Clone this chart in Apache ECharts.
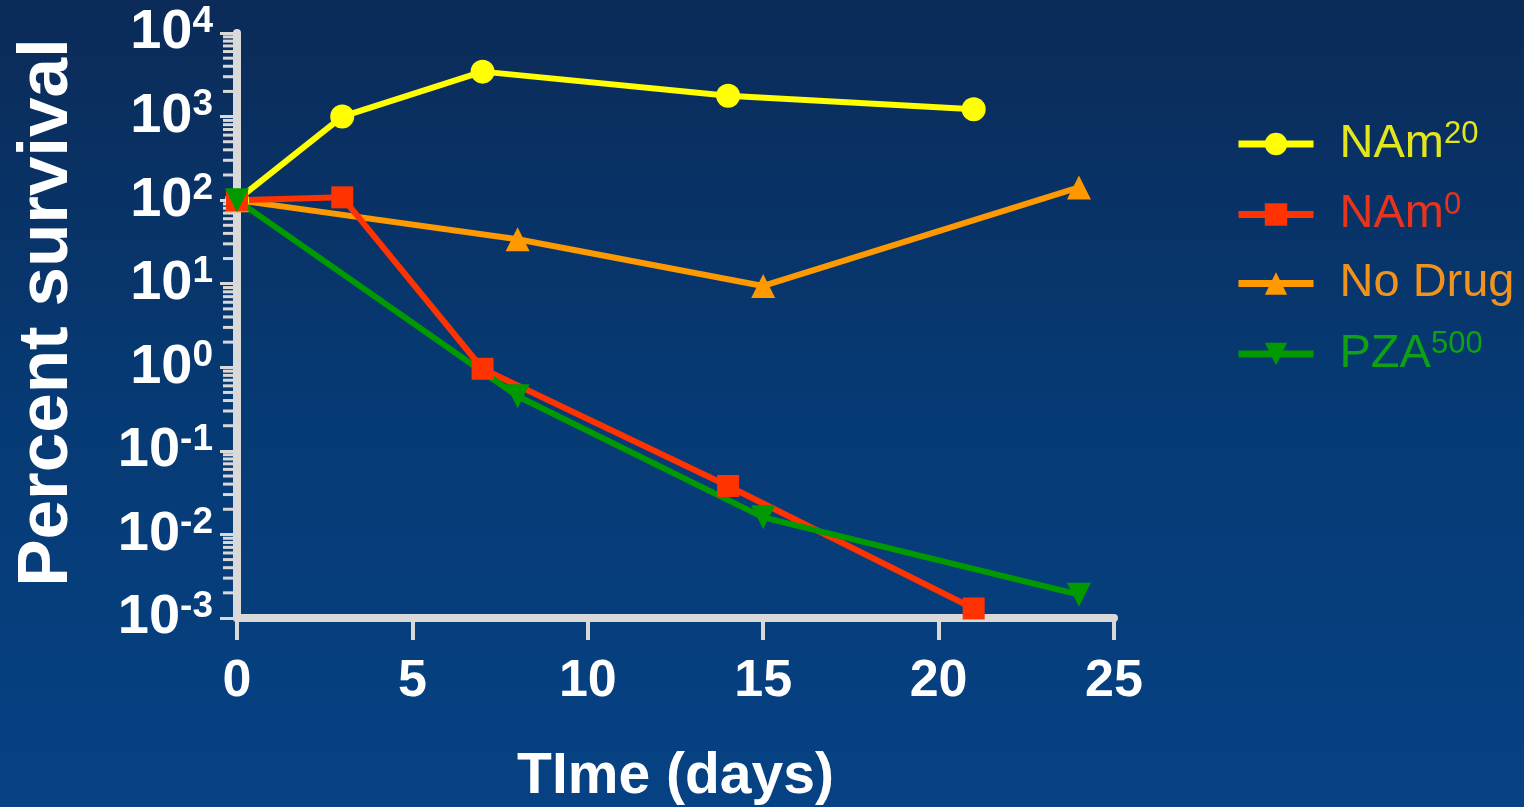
<!DOCTYPE html>
<html><head><meta charset="utf-8">
<script src="https://cdn.jsdelivr.net/npm/echarts@6/dist/echarts.min.js"></script>
<style>html,body{margin:0;padding:0;width:1524px;height:807px;overflow:hidden}#c{width:1524px;height:807px}</style>
</head><body><div id="c"></div>
<script>
// ---- data ----
const seriesNames = ['NAm20', 'NAm0', 'No Drug', 'PZA500'];
const nam20 = [[0, 100], [3, 1000], [7, 3450], [14, 1780], [21, 1220]];
const nam0 = [[0, 100], [3, 108], [7, 0.96], [14, 0.038], [21, 0.0013]];
const noDrug = [[0, 100], [8, 34], [15, 9.4], [24, 142]];
const pza500 = [[0, 100], [8, 0.45], [15, 0.016], [24, 0.0019]];
const xTickLabels = [0, 5, 10, 15, 20, 25];
const yExponents = [-3, -2, -1, 0, 1, 2, 3, 4];
const minorMultipliers = [2, 3, 4, 5, 6, 7, 8, 9];
const legendMain = {'NAm20': 'NAm', 'NAm0': 'NAm', 'No Drug': 'No Drug', 'PZA500': 'PZA'};
const legendSup = {'NAm20': '20', 'NAm0': '0', 'No Drug': '', 'PZA500': '500'};

const colors = {'NAm20': '#ffff00', 'NAm0': '#ff3300', 'No Drug': '#ff9900', 'PZA500': '#009900'};
const textColors = {'NAm20': '#e4e61c', 'NAm0': '#e8341c', 'No Drug': '#f0921e', 'PZA500': '#10a014'};

const minorTicks = [];
for (const e of yExponents.slice(0, -1)) {
  for (const k of minorMultipliers) minorTicks.push([0, k * Math.pow(10, e)]);
}

const axisCol = '#d9d9d9';
const font = 'Liberation Sans, Arial, sans-serif';
const chart = echarts.init(document.getElementById('c'));
const mkSeries = (name, data, symbol, size, rotate) => ({
  name, type: 'line', data, symbol, symbolSize: size, symbolRotate: rotate || 0,
  lineStyle: {width: 6, color: colors[name]}, itemStyle: {color: colors[name]},
  showSymbol: true, animation: false, z: 3
});
chart.setOption({
  backgroundColor: {type: 'linear', x: 0, y: 0, x2: 0, y2: 1,
    colorStops: [{offset: 0, color: '#0b2b58'}, {offset: 0.5, color: '#063a74'}, {offset: 1, color: '#064284'}]},
  animation: false,
  grid: {left: 237, right: 410, top: 33, bottom: 189, containLabel: false, outerBoundsMode: 'none'},
  legend: {
    orient: 'vertical', left: 1235, top: 119, padding: 0, itemWidth: 75, itemHeight: 28, itemGap: 22,
    lineStyle: {width: 7},
    data: seriesNames.map(n => ({name: n, textStyle: {color: textColors[n]}})),
    formatter: n => '{m|' + legendMain[n] + '}' + (legendSup[n] ? '{s|' + legendSup[n] + '}' : ''),
    textStyle: {fontFamily: font, fontSize: 47, padding: [0, 0, 0, 21],
      rich: {m: {fontSize: 47, lineHeight: 50}, s: {fontSize: 31, verticalAlign: 'top', lineHeight: 31}}}
  },
  xAxis: {
    type: 'value', min: 0, max: 25, interval: 5,
    name: 'TIme (days)', nameLocation: 'middle', nameGap: 131,
    nameTextStyle: {color: '#ffffff', fontSize: 57, fontWeight: 'bold', fontFamily: font},
    axisLine: {show: true, onZero: false, lineStyle: {color: axisCol, width: 8}},
    axisTick: {show: true, length: 22, lineStyle: {color: axisCol, width: 4}},
    axisLabel: {color: '#ffffff', fontSize: 52, fontWeight: 'bold', fontFamily: font, margin: 38,
      formatter: v => xTickLabels.includes(v) ? String(v) : ''},
    splitLine: {show: false}
  },
  yAxis: {
    type: 'log', logBase: 10, min: 0.001, max: 10000, interval: 1,
    name: 'Percent survival', nameLocation: 'middle', nameGap: 154, nameRotate: 90,
    nameTextStyle: {color: '#ffffff', fontSize: 71, fontWeight: 'bold', fontFamily: font, padding: [0, 0, 0, 26]},
    axisLine: {show: true, lineStyle: {color: axisCol, width: 8}},
    axisTick: {show: true, length: 17, lineStyle: {color: axisCol, width: 3}},
    axisLabel: {color: '#ffffff', fontWeight: 'bold', fontFamily: font, margin: 24,
      formatter: v => { const e = Math.round(Math.log10(v)); return yExponents.includes(e) ? '{b|10}{s|' + e + '}' : ''; },
      rich: {b: {fontSize: 56, fontWeight: 'bold', color: '#fff', fontFamily: font, lineHeight: 60},
             s: {fontSize: 37, fontWeight: 'bold', color: '#fff', fontFamily: font, verticalAlign: 'top', lineHeight: 37}}},
    splitLine: {show: false}
  },
  series: [
    {
      type: 'custom', name: 'minorTicks', data: minorTicks, clip: false, silent: true, z: 1,
      encode: {x: 0, y: 1},
      renderItem: (params, api) => {
        const p = api.coord([api.value(0), api.value(1)]);
        return {type: 'line', shape: {x1: p[0] - 14, y1: p[1], x2: p[0], y2: p[1]},
                style: {stroke: axisCol, lineWidth: 3}};
      }
    },
    mkSeries('NAm20', nam20, 'circle', 24),
    mkSeries('No Drug', noDrug, 'triangle', 24),
    mkSeries('NAm0', nam0, 'rect', 22),
    mkSeries('PZA500', pza500, 'triangle', 24, 180)
  ]
});
</script></body></html>
